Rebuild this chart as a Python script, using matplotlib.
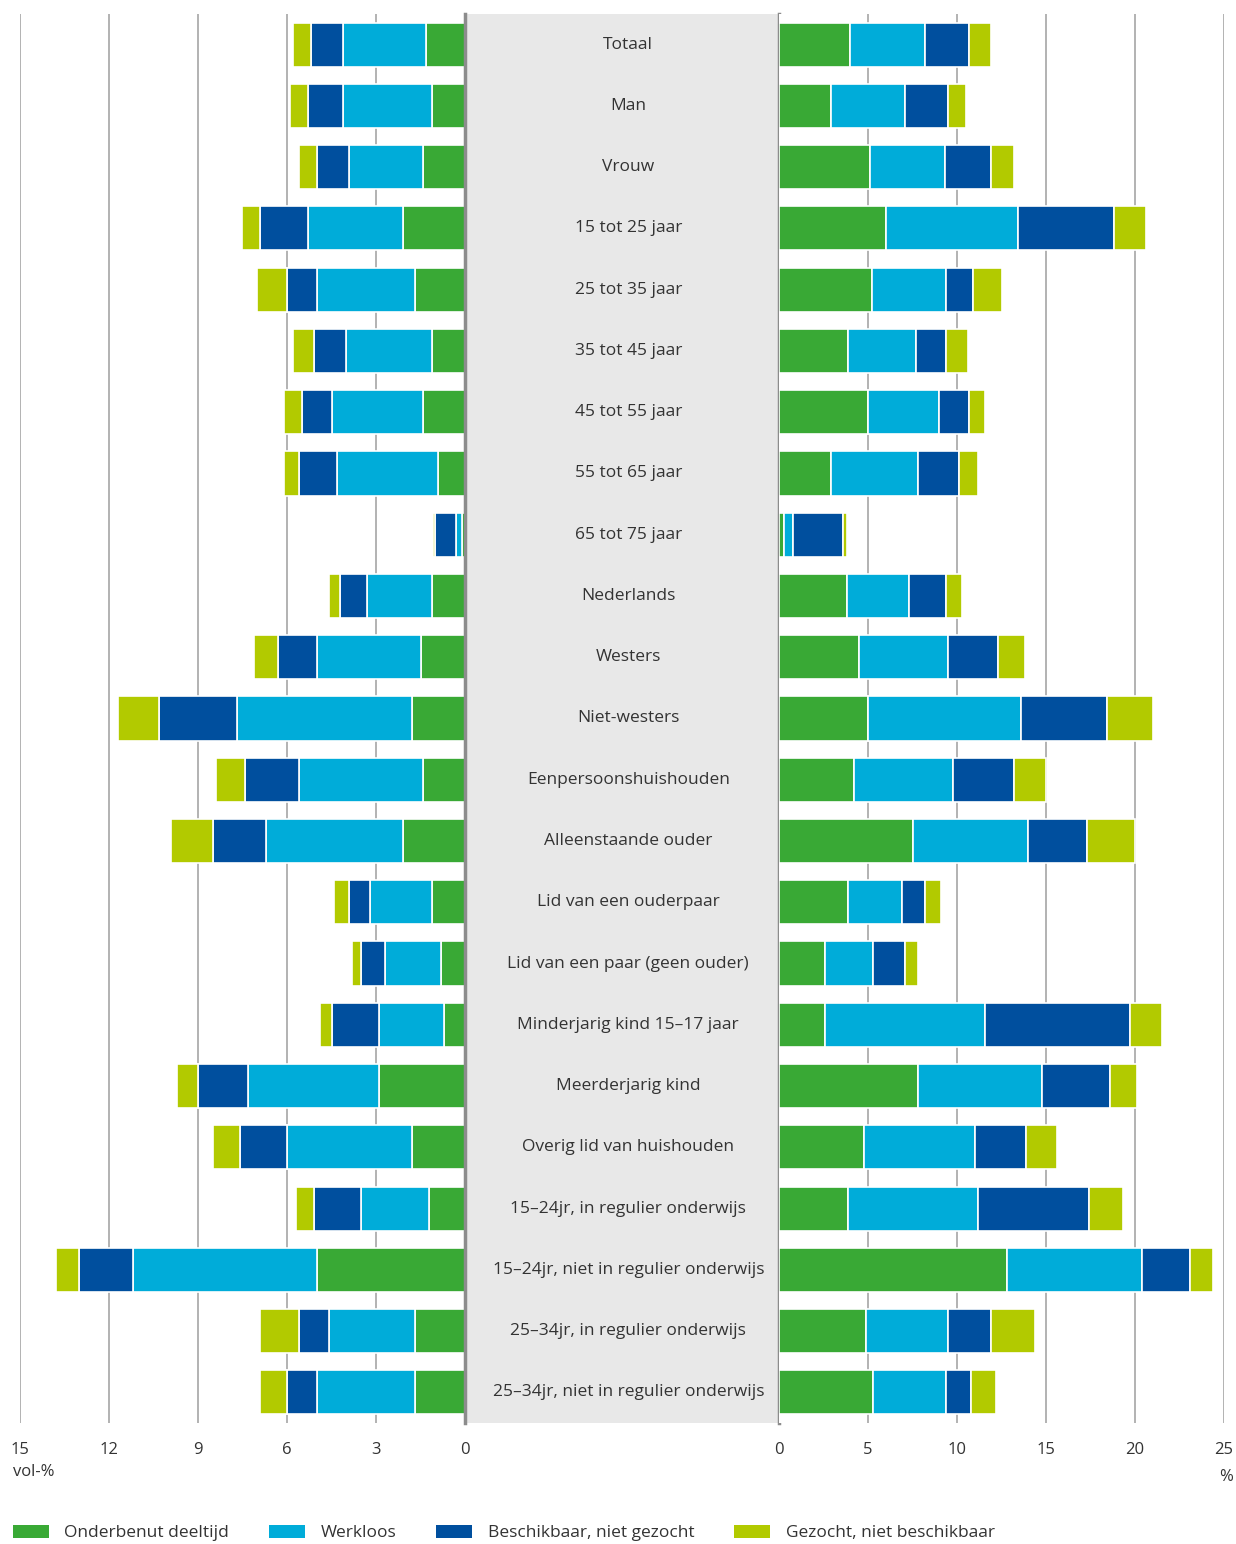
import numpy as np
import matplotlib.pyplot as plt
from matplotlib.patches import Patch

plt.rcParams['font.family'] = ['Open Sans', 'DejaVu Sans']

categories = ['Totaal', 'Man', 'Vrouw', '15 tot 25 jaar', '25 tot 35 jaar', '35 tot 45 jaar',
              '45 tot 55 jaar', '55 tot 65 jaar', '65 tot 75 jaar', 'Nederlands', 'Westers',
              'Niet-westers', 'Eenpersoonshuishouden', 'Alleenstaande ouder',
              'Lid van een ouderpaar', 'Lid van een paar (geen ouder)',
              'Minderjarig kind 15\u201317 jaar', 'Meerderjarig kind', 'Overig lid van huishouden',
              '15\u201324jr, in regulier onderwijs', '15\u201324jr, niet in regulier onderwijs',
              '25\u201334jr, in regulier onderwijs', '25\u201334jr, niet in regulier onderwijs']

series = ['Onderbenut deeltijd', 'Werkloos', 'Beschikbaar, niet gezocht', 'Gezocht, niet beschikbaar']
colors = ['#39a935', '#00acd9', '#004f9e', '#b2ca00']

# left panel: vol-%
vol_deeltijd = [1.3, 1.1, 1.4, 2.1, 1.7, 1.1, 1.4, 0.9, 0.1, 1.1, 1.5, 1.8, 1.4, 2.1, 1.1, 0.8, 0.7, 2.9, 1.8, 1.2, 5.0, 1.7, 1.7]
vol_werkloos = [2.8, 3.0, 2.5, 3.2, 3.3, 2.9, 3.1, 3.4, 0.2, 2.2, 3.5, 5.9, 4.2, 4.6, 2.1, 1.9, 2.2, 4.4, 4.2, 2.3, 6.2, 2.9, 3.3]
vol_beschikbaar = [1.1, 1.2, 1.1, 1.6, 1.0, 1.1, 1.0, 1.3, 0.7, 0.9, 1.3, 2.6, 1.8, 1.8, 0.7, 0.8, 1.6, 1.7, 1.6, 1.6, 1.8, 1.0, 1.0]
vol_gezocht = [0.6, 0.6, 0.6, 0.6, 1.0, 0.7, 0.6, 0.5, 0.07, 0.4, 0.8, 1.4, 1.0, 1.4, 0.5, 0.3, 0.4, 0.7, 0.9, 0.6, 0.8, 1.3, 0.9]

# right panel: %
pct_deeltijd = [4.0, 2.9, 5.1, 6.0, 5.2, 3.9, 5.0, 2.9, 0.3, 3.8, 4.5, 5.0, 4.2, 7.5, 3.9, 2.6, 2.6, 7.8, 4.8, 3.9, 12.8, 4.9, 5.3]
pct_werkloos = [4.2, 4.2, 4.2, 7.4, 4.2, 3.8, 4.0, 4.9, 0.5, 3.5, 5.0, 8.6, 5.6, 6.5, 3.0, 2.7, 9.0, 7.0, 6.2, 7.3, 7.6, 4.6, 4.1]
pct_beschikbaar = [2.5, 2.4, 2.6, 5.4, 1.5, 1.7, 1.7, 2.3, 2.8, 2.1, 2.8, 4.8, 3.4, 3.3, 1.3, 1.8, 8.1, 3.8, 2.9, 6.2, 2.7, 2.4, 1.4]
pct_gezocht = [1.2, 1.0, 1.3, 1.8, 1.6, 1.2, 0.9, 1.1, 0.2, 0.9, 1.5, 2.6, 1.8, 2.7, 0.9, 0.7, 1.8, 1.5, 1.7, 1.9, 1.3, 2.5, 1.4]

left_data = [vol_deeltijd, vol_werkloos, vol_beschikbaar, vol_gezocht]
right_data = [pct_deeltijd, pct_werkloos, pct_beschikbaar, pct_gezocht]

W, H = 1236, 1544
fig = plt.figure(figsize=(W / 100, H / 100), dpi=100)
bot = 1 - 1423 / H
hgt = (1423 - 14) / H
axL = fig.add_axes([20 / W, bot, (465 - 20) / W, hgt])
axM = fig.add_axes([465 / W, bot, (779 - 465) / W, hgt])
axR = fig.add_axes([779 / W, bot, (1224 - 779) / W, hgt])

y = np.arange(len(categories))
grid_c = '#a6a6a6'
txt_c = '#333333'

for ax, data, lim, ticks in [(axL, left_data, (15, 0), [15, 12, 9, 6, 3, 0]),
                             (axR, right_data, (0, 25), [0, 5, 10, 15, 20, 25])]:
    left = np.zeros(len(categories))
    for vals, c in zip(data, colors):
        vals = np.array(vals)
        ax.barh(y, vals, left=left, height=0.72, color=c, edgecolor='white', linewidth=1.2, zorder=3)
        left += vals
    ax.set_xlim(*lim)
    ax.set_ylim(len(categories) - 0.5, -0.5)
    ax.set_xticks(ticks)
    ax.set_yticks([])
    for t in ticks:
        if t != 0:
            ax.axvline(t, color=grid_c, lw=1.2, zorder=1)
    for s in ax.spines.values():
        s.set_visible(False)
    ax.tick_params(axis='x', length=0, pad=14, labelsize=12, labelcolor=txt_c)

axM.set_facecolor('#e8e8e8')
axM.set_xlim(0, 1)
axM.set_ylim(len(categories) - 0.5, -0.5)
axM.set_xticks([])
axM.set_yticks([])
axM.tick_params(length=0)
axM.spines['top'].set_visible(False)
axM.spines['bottom'].set_visible(False)
for side in ['left', 'right']:
    axM.spines[side].set_color('#8c8c8c')
    axM.spines[side].set_linewidth(2.5)
for i, cat in enumerate(categories):
    axM.text(0.52, i, cat, ha='center', va='center', fontsize=12.5, color=txt_c)

fig.text(13 / W, 1 - 1472 / H, 'vol-%', ha='left', va='center', fontsize=12, color=txt_c)
fig.text(1226 / W, 1 - 1477 / H, '%', ha='center', va='center', fontsize=12, color=txt_c)

handles = [Patch(facecolor=c, edgecolor='none', label=s) for s, c in zip(series, colors)]
fig.legend(handles=handles, loc='center left', bbox_to_anchor=(4 / W, 1 - 1533 / H), ncol=4,
           frameon=False, fontsize=12.5, handlelength=2.07, handleheight=0.85, handletextpad=0.9,
           columnspacing=2.3, borderpad=0, labelcolor=txt_c)

fig.savefig('out.png', dpi=100)
